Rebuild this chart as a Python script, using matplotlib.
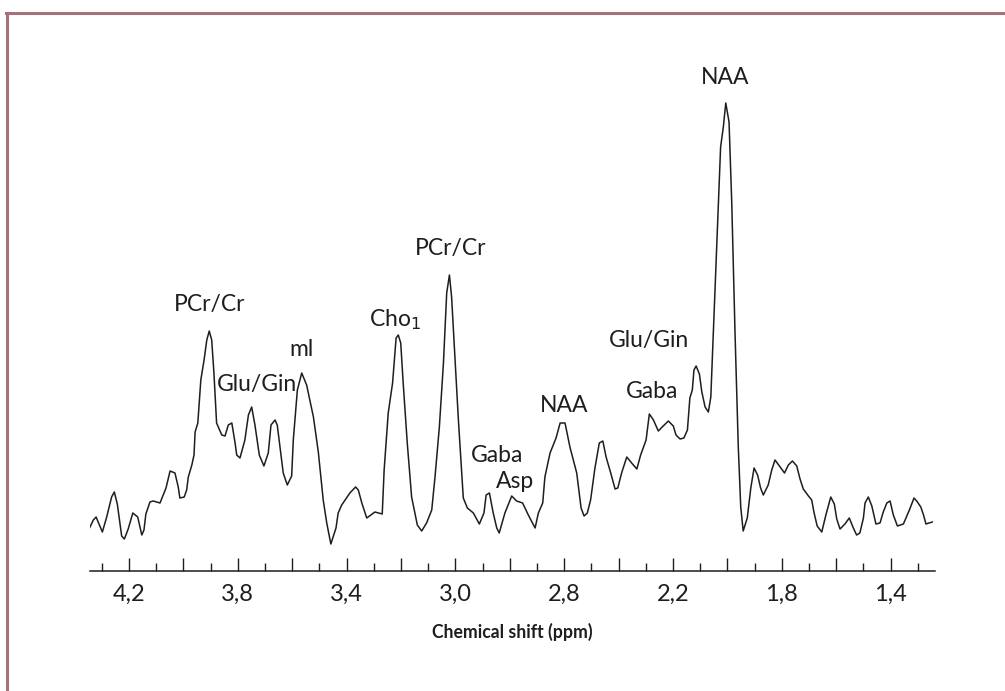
import matplotlib
matplotlib.use("Agg")
import matplotlib.pyplot as plt
from matplotlib.lines import Line2D
from matplotlib.ticker import FixedLocator
import numpy as np

# spectrum: chemical shift (ppm) and intensity (a.u.)
ppm = [4.347, 4.331, 4.321, 4.298, 4.282, 4.264, 4.254, 4.243, 4.227, 4.217,
       4.203, 4.186, 4.168, 4.153, 4.145, 4.138, 4.123, 4.111, 4.086, 4.064,
       4.049, 4.031, 4.019, 4.013, 3.997, 3.988, 3.982, 3.969, 3.961, 3.957,
       3.947, 3.936, 3.924, 3.914, 3.905, 3.896, 3.888, 3.878, 3.859, 3.847,
       3.835, 3.822, 3.810, 3.804, 3.792, 3.774, 3.761, 3.749, 3.737, 3.721,
       3.704, 3.688, 3.678, 3.663, 3.655, 3.645, 3.633, 3.618, 3.602, 3.596,
       3.581, 3.565, 3.547, 3.522, 3.504, 3.486, 3.473, 3.458, 3.439, 3.431,
       3.418, 3.388, 3.367, 3.357, 3.344, 3.326, 3.296, 3.269, 3.262, 3.247,
       3.231, 3.218, 3.210, 3.201, 3.192, 3.177, 3.161, 3.140, 3.124, 3.106,
       3.087, 3.075, 3.059, 3.044, 3.032, 3.022, 3.014, 3.001, 2.989, 2.971,
       2.956, 2.934, 2.912, 2.895, 2.887, 2.875, 2.861, 2.848, 2.839, 2.818,
       2.793, 2.775, 2.753, 2.732, 2.707, 2.695, 2.679, 2.671, 2.652, 2.630,
       2.615, 2.597, 2.579, 2.554, 2.538, 2.527, 2.515, 2.503, 2.487, 2.471,
       2.458, 2.446, 2.429, 2.413, 2.403, 2.389, 2.370, 2.352, 2.333, 2.319,
       2.299, 2.287, 2.272, 2.254, 2.236, 2.217, 2.199, 2.189, 2.174, 2.160,
       2.147, 2.138, 2.129, 2.123, 2.115, 2.103, 2.094, 2.082, 2.070, 2.061,
       2.049, 2.037, 2.025, 2.015, 2.006, 1.994, 1.984, 1.972, 1.960, 1.951,
       1.942, 1.927, 1.914, 1.902, 1.889, 1.878, 1.868, 1.850, 1.837, 1.825,
       1.806, 1.790, 1.776, 1.761, 1.745, 1.733, 1.721, 1.702, 1.690, 1.682,
       1.670, 1.653, 1.638, 1.620, 1.607, 1.598, 1.586, 1.568, 1.552, 1.537,
       1.525, 1.513, 1.500, 1.494, 1.482, 1.469, 1.454, 1.439, 1.427, 1.414,
       1.402, 1.390, 1.375, 1.353, 1.331, 1.314, 1.304, 1.289, 1.279, 1.270,
       1.258, 1.247]
intensity = [42, 51, 54, 39, 54, 74, 79, 67, 35, 32,
             42, 58, 54, 36, 41, 57, 69, 70, 68, 83,
             100, 98, 84, 73, 74, 81, 94, 106, 116, 139,
             148, 191, 211, 231, 240, 231, 199, 148, 136, 135,
             146, 148, 128, 116, 113, 131, 156, 164, 146, 116,
             105, 118, 146, 151, 146, 124, 98, 86, 95, 131,
             181, 198, 186, 154, 119, 71, 48, 27, 43, 58,
             66, 78, 84, 81, 68, 53, 59, 57, 101, 158,
             188, 233, 236, 228, 188, 128, 74, 46, 40, 48,
             61, 94, 144, 208, 278, 296, 274, 211, 151, 73,
             63, 58, 47, 58, 76, 78, 58, 43, 38, 58,
             75, 70, 68, 56, 43, 58, 68, 94, 118, 133,
             148, 148, 124, 98, 63, 55, 58, 71, 103, 128,
             130, 114, 98, 82, 83, 98, 114, 108, 102, 116,
             131, 157, 151, 140, 145, 150, 145, 136, 132, 133,
             141, 173, 181, 201, 205, 197, 179, 164, 159, 174,
             258, 341, 424, 444, 468, 449, 368, 238, 124, 64,
             40, 53, 83, 103, 96, 83, 76, 86, 101, 111,
             104, 98, 106, 110, 105, 92, 82, 75, 71, 59,
             45, 39, 56, 74, 67, 52, 42, 47, 53, 43,
             36, 38, 53, 68, 74, 65, 47, 48, 59, 68,
             70, 56, 45, 47, 61, 73, 70, 64, 56, 47,
             48, 49]

# peak labels: text, ppm, intensity
peak_names = ["PCr/Cr", "Glu/Gin", "ml", "Cho$_1$", "PCr/Cr", "Gaba", "Asp",
              "NAA", "Glu/Gin", "Gaba", "NAA"]
peak_ppm = [3.904, 3.731, 3.564, 3.222, 3.016, 2.847, 2.781, 2.601, 2.289, 2.278, 2.010]
peak_int = [267, 187, 222, 251, 322, 116, 90, 166, 231, 179, 493]

major_ticks = [4.2, 4.0, 3.8, 3.6, 3.4, 3.2, 3.0, 2.8, 2.6, 2.4, 2.2, 2.0, 1.8, 1.6, 1.4]
minor_ticks = [4.3, 4.1, 3.9, 3.7, 3.5, 3.3, 3.1, 2.9, 2.7, 2.5, 2.3, 2.1, 1.9, 1.7, 1.5, 1.3]
tick_text = ["4,2", "", "3,8", "", "3,4", "", "3,0", "", "2,8", "", "2,2", "", "1,8", "", "1,4"]

ink = "#1e1e1e"
frame_col = "#a8707a"

fig = plt.figure(figsize=(10.05, 6.91), dpi=100)
ax = fig.add_axes([90 / 1005, 120 / 691, 845 / 1005, 511 / 691])

ax.plot(ppm, intensity, color=ink, lw=1.1)
for name, xp, yi in zip(peak_names, peak_ppm, peak_int):
    ax.text(xp, yi, name, ha="center", va="center", fontsize=16.5,
            family="Lato", color=ink)

ax.set_xlim(4.3434, 1.2368)
ax.set_ylim(0, 511)
for s in ["top", "left", "right"]:
    ax.spines[s].set_visible(False)
ax.spines["bottom"].set_linewidth(1.1)
ax.spines["bottom"].set_color(ink)
ax.set_yticks([])

ax.xaxis.set_major_locator(FixedLocator(major_ticks))
ax.xaxis.set_minor_locator(FixedLocator(minor_ticks))
ax.set_xticklabels(tick_text)
ax.tick_params(axis="x", which="major", direction="in", length=9.5, width=1.0,
               color=ink, pad=9.5, labelsize=17, labelcolor=ink)
ax.tick_params(axis="x", which="minor", direction="in", length=5.5, width=1.0, color=ink)
for lab in ax.get_xticklabels():
    lab.set_family("Lato")

ax.set_xlabel("Chemical shift (ppm)", fontsize=12.7, fontweight="bold",
              family="Lato", color=ink, labelpad=13)

# pinkish frame on the left and top edge
fig.add_artist(Line2D([7 / 1005, 7 / 1005], [0, 678 / 691], transform=fig.transFigure,
                      color=frame_col, lw=2.2))
fig.add_artist(Line2D([6 / 1005, 1], [678 / 691, 678 / 691], transform=fig.transFigure,
                      color=frame_col, lw=2.2))

fig.savefig("out.png", dpi=100)
